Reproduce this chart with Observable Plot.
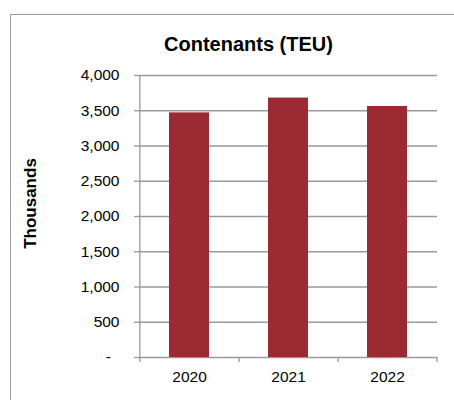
<!DOCTYPE html>
<html>
<head>
<meta charset="utf-8">
<script src="https://cdn.jsdelivr.net/npm/d3@7"></script>
<script src="https://cdn.jsdelivr.net/npm/@observablehq/plot@0.6"></script>
<style>
  html, body { margin: 0; padding: 0; background: #fff; overflow: hidden; width: 454px; height: 400px; }
  #wrap { position: relative; width: 454px; height: 400px; }
  #border { position: absolute; left: 10px; top: 14px; width: 600px; height: 600px; border: 1px solid #9a9a9a; box-sizing: border-box; }
  #chart { position: absolute; left: 0; top: 0; }
</style>
</head>
<body>
<div id="wrap"><div id="border"></div><div id="chart"></div></div>
<script>
const years = ["2020", "2021", "2022"];
const values = [3470, 3680, 3560];
const yTicks = [0, 500, 1000, 1500, 2000, 2500, 3000, 3500, 4000];
const title = "Contenants (TEU)";
const yLabel = "Thousands";

const data = years.map((year, i) => ({year, value: values[i]}));

const W = 454, H = 400;
const mL = 139, mR = 17, mT = 75, mB = 43;
const step = (W - mL - mR) / years.length;
const gray = "#9a9a9a";
const fmt = d3.format(",");

const chart = Plot.plot({
  width: W,
  height: H,
  marginLeft: mL,
  marginRight: mR,
  marginTop: mT,
  marginBottom: mB,
  style: {fontFamily: "'Liberation Sans', Arial, sans-serif", fontSize: "15px", color: "#000", background: "transparent"},
  x: {domain: years, paddingInner: 0.6, paddingOuter: 0.3, label: null},
  y: {domain: [0, 4000], label: null},
  marks: [
    Plot.gridY(yTicks, {stroke: gray, strokeOpacity: 1, strokeWidth: 1.3}),
    Plot.barY(data, {x: "year", y: "value", fill: "#9B2A33"}),
    // y axis line (first band boundary) and x tick marks at band boundaries
    Plot.ruleX([years[0]], {dx: -step / 2, y1: 4000, y2: 0, insetBottom: -5, stroke: gray, strokeWidth: 1.3}),
    Plot.ruleX(years, {dx: step / 2, y1: 0, y2: 0, insetBottom: -5, stroke: gray, strokeWidth: 1.3}),
    Plot.axisY(yTicks, {tickSize: 5, tickPadding: 15, stroke: gray, strokeWidth: 1.3, fontSize: 15.5,
      tickFormat: d => d === 0 ? "-\u00a0\u00a0" : fmt(d), fill: "#000", label: null}),
    Plot.axisX({tickSize: 0, tickPadding: 13, fill: "#000", label: null, fontSize: 15.5}),
    Plot.text([title], {frameAnchor: "top", dx: -40, dy: -25, lineAnchor: "bottom",
      fontWeight: "bold", fontSize: 20, fill: "#000"}),
    Plot.text([yLabel], {frameAnchor: "left", rotate: -90, dx: -109, dy: -13, lineAnchor: "middle",
      textAnchor: "middle", fontWeight: "bold", fontSize: 17, fill: "#000"})
  ]
});
document.getElementById("chart").appendChild(chart);
</script>
</body>
</html>
